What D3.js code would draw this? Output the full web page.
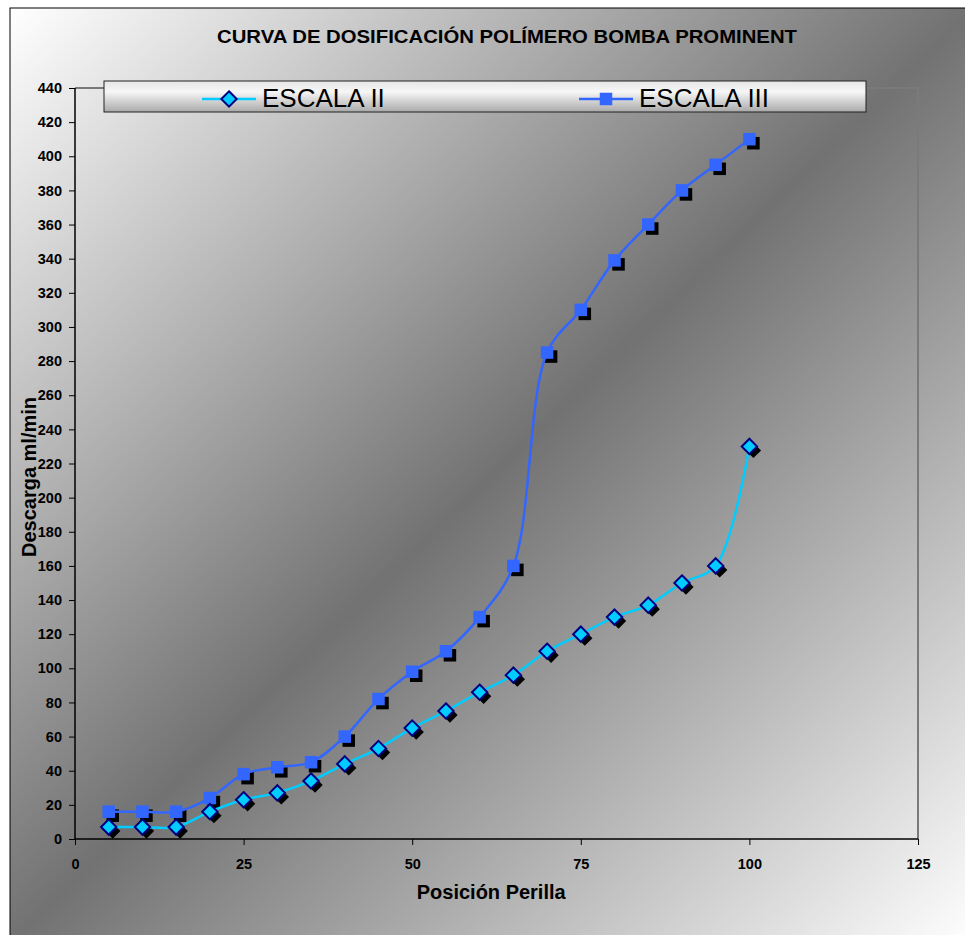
<!DOCTYPE html>
<html>
<head>
<meta charset="utf-8">
<script src="https://cdn.jsdelivr.net/npm/d3@7"></script>
<style>
  body { margin: 0; background: #fff; }
  text { font-family: "Liberation Sans", Arial, sans-serif; }
</style>
</head>
<body>
<svg id="chart" width="965" height="935"></svg>
<script>
// data
const posiciones = [5, 10, 15, 20, 25, 30, 35, 40, 45, 50, 55, 60, 65, 70, 75, 80, 85, 90, 95, 100];
const escalaII = [7, 7, 7, 16, 23, 27, 34, 44, 53, 65, 75, 86, 96, 110, 120, 130, 137, 150, 160, 230];
const escalaIII = [16, 16, 16, 24, 38, 42, 45, 60, 82, 98, 110, 130, 160, 285, 310, 339, 360, 380, 395, 410];
const xTicks = [0, 25, 50, 75, 100, 125];
const yTicks = d3.range(0, 441, 20);
const seriesNames = ["ESCALA II", "ESCALA III"];

const svg = d3.select("#chart");
const margin = { top: 88, right: 47, bottom: 96, left: 75 };
const width = 965 - margin.left - margin.right;
const height = 935 - margin.top - margin.bottom;

const defs = svg.append("defs");
const bg = defs.append("linearGradient").attr("id", "bg")
  .attr("x1", 0).attr("y1", 0).attr("x2", 1).attr("y2", 1);
bg.append("stop").attr("offset", "0%").attr("stop-color", "#ffffff");
bg.append("stop").attr("offset", "50%").attr("stop-color", "#727272");
bg.append("stop").attr("offset", "100%").attr("stop-color", "#ffffff");

const lg = defs.append("linearGradient").attr("id", "legbg")
  .attr("x1", 0).attr("y1", 0).attr("x2", 0).attr("y2", 1);
lg.append("stop").attr("offset", "0%").attr("stop-color", "#e6e6e6");
lg.append("stop").attr("offset", "35%").attr("stop-color", "#f6f6f6");
lg.append("stop").attr("offset", "100%").attr("stop-color", "#a9a9a9");

// chart area
svg.append("rect")
  .attr("x", 10).attr("y", 8)
  .attr("width", 965).attr("height", 935)
  .attr("fill", "url(#bg)")
  .attr("stroke", "#000").attr("stroke-width", 1);

svg.append("text")
  .attr("x", 507).attr("y", 43)
  .attr("text-anchor", "middle")
  .attr("font-size", 18).attr("font-weight", "bold")
  .attr("textLength", 580).attr("lengthAdjust", "spacingAndGlyphs")
  .text("CURVA DE DOSIFICACIÓN POLÍMERO BOMBA PROMINENT");

const x = d3.scaleLinear().domain([0, 125]).range([0, width]);
const y = d3.scaleLinear().domain([0, 440]).range([height, 0]);

const g = svg.append("g").attr("transform", `translate(${margin.left},${margin.top})`);

// plot area frame (top and right)
g.append("path")
  .attr("d", `M0,0H${width}V${height}`)
  .attr("fill", "none")
  .attr("stroke", "#7a7a7a").attr("stroke-width", 2);

const xAxis = g.append("g")
  .attr("transform", `translate(0,${height})`)
  .call(d3.axisBottom(x).tickValues(xTicks).tickSize(6).tickPadding(14));
const yAxis = g.append("g")
  .call(d3.axisLeft(y).tickValues(yTicks).tickSize(6).tickPadding(7));

[xAxis, yAxis].forEach(a => {
  a.select(".domain").attr("stroke", "#000").attr("stroke-width", 1.5);
  a.selectAll(".tick line").attr("stroke", "#000");
  a.selectAll(".tick text")
    .attr("font-family", "Liberation Sans, Arial, sans-serif")
    .attr("font-size", 14.5).attr("font-weight", "bold").attr("fill", "#000");
});
yAxis.select(".domain").attr("d", `M0,0V${height}`);
xAxis.select(".domain").attr("d", `M0,0H${width}`);

g.append("text")
  .attr("x", x(50) + 79).attr("y", height + 60)
  .attr("text-anchor", "middle")
  .attr("font-size", 20).attr("font-weight", "bold")
  .text("Posición Perilla");

g.append("text")
  .attr("transform", `translate(${36 - margin.left},${477 - margin.top}) rotate(-90)`)
  .attr("text-anchor", "middle")
  .attr("font-size", 20).attr("font-weight", "bold")
  .text("Descarga ml/min");

const line = d3.line()
  .x(d => x(d[0]))
  .y(d => y(d[1]))
  .curve(d3.curveCatmullRom.alpha(0.5));

const data2 = posiciones.map((p, i) => [p, escalaII[i]]);
const data3 = posiciones.map((p, i) => [p, escalaIII[i]]);

const sh = 4;
const diamond = d3.symbol().type(d3.symbolDiamond2).size(150);
const square = d3.symbol().type(d3.symbolSquare2).size(200);

// shadows
g.selectAll(".sh3").data(data3).enter().append("path")
  .attr("d", square)
  .attr("transform", d => `translate(${x(d[0]) + sh},${y(d[1]) + sh})`)
  .attr("fill", "#000");
g.selectAll(".sh2").data(data2).enter().append("path")
  .attr("d", diamond)
  .attr("transform", d => `translate(${x(d[0]) + sh},${y(d[1]) + sh})`)
  .attr("fill", "#000");

g.append("path").datum(data3)
  .attr("d", line).attr("fill", "none")
  .attr("stroke", "#3366ff").attr("stroke-width", 2.5);
g.append("path").datum(data2)
  .attr("d", line).attr("fill", "none")
  .attr("stroke", "#00ccff").attr("stroke-width", 2.5);

g.selectAll(".m3").data(data3).enter().append("path")
  .attr("d", square)
  .attr("transform", d => `translate(${x(d[0])},${y(d[1])})`)
  .attr("fill", "#3366ff");
g.selectAll(".m2").data(data2).enter().append("path")
  .attr("d", diamond)
  .attr("transform", d => `translate(${x(d[0])},${y(d[1])})`)
  .attr("fill", "#00ccff").attr("stroke", "#000080").attr("stroke-width", 2);

// legend
const leg = svg.append("g").attr("transform", "translate(104,81)");
leg.append("rect")
  .attr("width", 762).attr("height", 31)
  .attr("fill", "url(#legbg)")
  .attr("stroke", "#222").attr("stroke-width", 1);

const legItems = [
  { name: seriesNames[0], lx: 98, color: "#00ccff", sym: "diamond" },
  { name: seriesNames[1], lx: 475, color: "#3366ff", sym: "square" }
];
legItems.forEach(it => {
  leg.append("line")
    .attr("x1", it.lx).attr("x2", it.lx + 54)
    .attr("y1", 18).attr("y2", 18)
    .attr("stroke", it.color).attr("stroke-width", 2.5);
  const m = leg.append("path")
    .attr("transform", `translate(${it.lx + 27},18)`)
    .attr("d", it.sym === "diamond" ? diamond : square)
    .attr("fill", it.color);
  if (it.sym === "diamond") m.attr("stroke", "#000080").attr("stroke-width", 2);
  leg.append("text")
    .attr("x", it.lx + 60).attr("y", 26)
    .attr("font-size", 26)
    .text(it.name);
});
</script>
</body>
</html>
